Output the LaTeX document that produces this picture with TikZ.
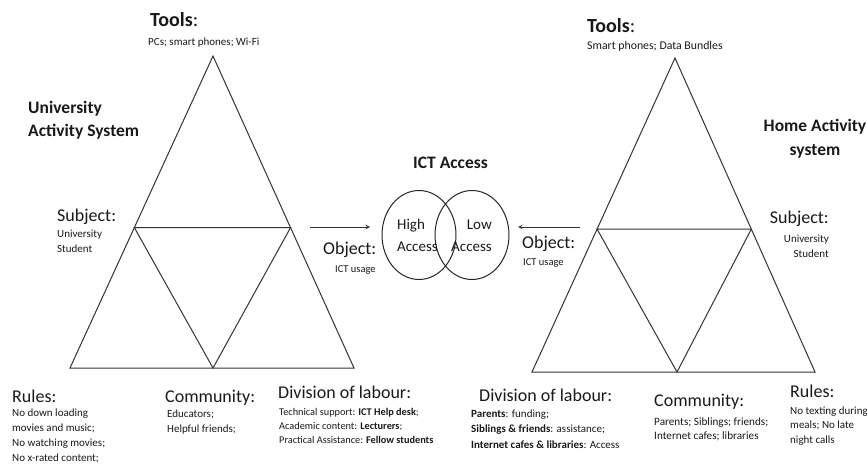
\documentclass[tikz,border=0pt]{standalone}
\usepackage{fontspec}
\setmainfont{Carlito}
\usetikzlibrary{calc,shapes.geometric}

\begin{document}
\begin{tikzpicture}[x=1pt,y=-1pt,
  edge/.style={draw=black!80,line width=1pt},
  label/.style={anchor=base west,inner sep=0pt,text=black!90},
  head/.style={label,font=\fontsize{18}{20}\selectfont},
  tools/.style={label,font=\fontsize{20}{22}\selectfont},
  title/.style={label,align=left,font=\fontsize{17.5}{24}\selectfont\bfseries},
  small/.style={label,align=left,font=\fontsize{11}{15}\selectfont},
  tiny/.style={label,align=left,font=\fontsize{10.3}{14}\selectfont},
  venn/.style={ellipse,draw=black!85,line width=1pt,minimum width=74,minimum height=89,inner sep=0pt}
]
\useasboundingbox (0,0) rectangle (867,468);
% Draw the university triangle
\coordinate (ua) at (213,56);
\coordinate (ul) at (70,368);
\coordinate (ur) at (354,368);
\coordinate (um) at (213,368);
\coordinate (usl) at ($(ua)!0.55!(ul)$);
\coordinate (usr) at ($(ua)!0.55!(ur)$);
\draw [edge] (ua) -- (ul) -- (ur) -- cycle;
\draw [edge] (usl) -- (usr) -- (um) -- cycle;
% Draw the home triangle
\coordinate (ha) at (675,58);
\coordinate (hl) at (532,372);
\coordinate (hr) at (815,372);
\coordinate (hm) at (677,372);
\coordinate (hsl) at ($(ha)!0.545!(hl)$);
\coordinate (hsr) at ($(ha)!0.545!(hr)$);
\draw [edge] (ha) -- (hl) -- (hr) -- cycle;
\draw [edge] (hsl) -- (hsr) -- (hm) -- cycle;
% Draw the access circles
\node [venn] (high) at (419,235) {};
\node [venn] (low) at (472,235) {};
\node [label,font=\fontsize{17.5}{20}\selectfont\bfseries] (ict) at (413,168) {ICT Access};
\node [label,font=\fontsize{15}{22}\selectfont] (hightxt) at (397,229) {High};
\node [label,font=\fontsize{15}{22}\selectfont] (highacc) at (397,251) {Access};
\node [label,anchor=base east,font=\fontsize{15}{22}\selectfont] (lowtxt) at (492,229) {Low};
\node [label,anchor=base east,font=\fontsize{15}{22}\selectfont] (lowacc) at (492,251) {Access};
% Draw the object arrows
\coordinate (uobj) at (310,227);
\coordinate (uend) at (370,227);
\coordinate (hobj) at (580,227);
\coordinate (hend) at (518,227);
\draw [edge,-stealth] (uobj) -- (uend);
\draw [edge,-stealth] (hobj) -- (hend);
% University activity system (multi-line texts sit on their last baseline)
\node [title] (usys) at (28,137) {University\\Activity System};
\node [tools] (utools) at (150,27) {\textbf{Tools}:};
\node [small] (utoolsl) at (148,46) {PCs; smart phones; Wi-Fi};
\node [head] (usubj) at (57,221) {Subject:};
\node [small] (usubjl) at (57,252) {University\\Student};
\node [head] (uobjt) at (323,254) {Object:};
\node [small,font=\fontsize{10.5}{14}\selectfont] (uobjl) at (335,272) {ICT usage};
\node [head] (urules) at (12,402) {Rules:};
\node [small,font=\fontsize{11}{14.7}\selectfont] (urulesl) at (12,461) {No down loading\\movies and music;\\No watching movies;\\No x-rated content;};
\node [head] (ucomm) at (165,402) {Community:};
\node [small] (ucomml) at (167,432) {Educators;\\Helpful friends;};
\node [head] (udiv) at (278,398) {Division of labour:};
\node [tiny] (udivl) at (279,443) {Technical support: \textbf{ICT Help desk};\\Academic content: \textbf{Lecturers};\\Practical Assistance: \textbf{Fellow students}};
% Home activity system
\node [title,anchor=base,align=center] (hsys) at (815,155) {Home Activity\\system};
\node [tools] (htools) at (587,33) {\textbf{Tools}:};
\node [small,font=\fontsize{11.8}{15}\selectfont] (htoolsl) at (587,50) {Smart phones; Data Bundles};
\node [head,anchor=base east] (hsubj) at (829,223) {Subject:};
\node [small,anchor=base east,align=right] (hsubjl) at (829,257) {University\\Student};
\node [head] (hobjt) at (522,248) {Object:};
\node [small,font=\fontsize{10.5}{14}\selectfont] (hobjl) at (523,265) {ICT usage};
\node [head] (hdiv) at (479,401) {Division of labour:};
\node [tiny,font=\fontsize{11}{15.5}\selectfont] (hdivl) at (471,448) {\textbf{Parents}: funding;\\\textbf{Siblings \& friends}: assistance;\\\textbf{Internet cafes \& libraries}: Access};
\node [head] (hcomm) at (654,406) {Community:};
\node [small,font=\fontsize{11.2}{14}\selectfont] (hcomml) at (654,439) {Parents; Siblings; friends;\\Internet cafes; libraries};
\node [head] (hrules) at (790,397) {Rules:};
\node [small,font=\fontsize{11}{14.5}\selectfont] (hrulesl) at (790,443) {No texting during\\meals; No late\\night calls};
\end{tikzpicture}
\end{document}
